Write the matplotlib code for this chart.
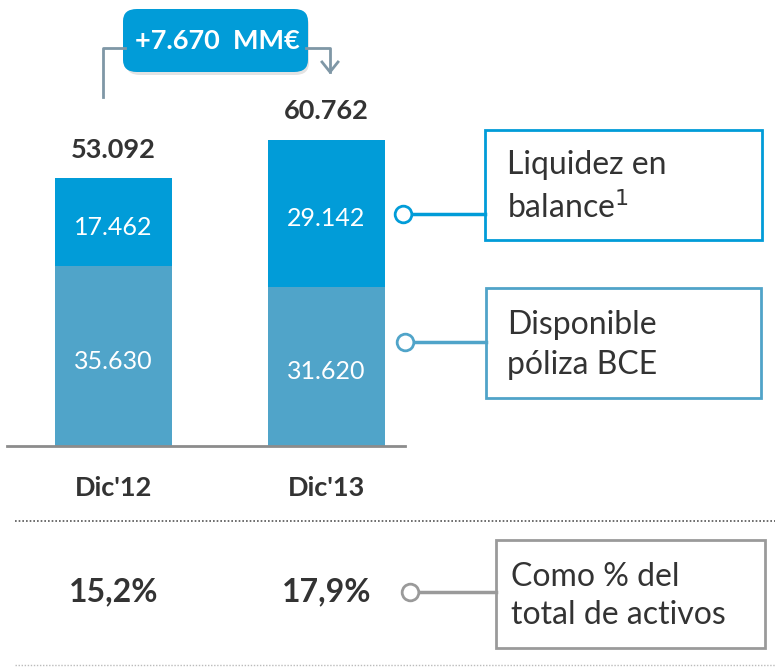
import matplotlib
matplotlib.use("Agg")
import matplotlib.pyplot as plt
from matplotlib.patches import FancyBboxPatch, Rectangle
from matplotlib.lines import Line2D

# ---- data ----
categories = ["Dic'12", "Dic'13"]
disponible_bce = [35630, 31620]
liquidez_balance = [17462, 29142]
totals = [53092, 60762]
pct_activos = ["15,2%", "17,9%"]
delta_label = "+7.670  MM€"

def fmt(v):
    return f"{v:,}".replace(",", ".")

W, H = 775, 669
fig = plt.figure(figsize=(W / 100, H / 100), dpi=100)
FONT = ["Lato", "DejaVu Sans"]
plt.rcParams['font.family'] = FONT

px_per_x = 213.0
x0_px = 113.5
base_px = 446.0
px_per_y = 574.0 / 113854.0
ax = fig.add_axes([0, 0, 1, 1])
ax.set_xlim(-x0_px / px_per_x, (W - x0_px) / px_per_x)
ax.set_ylim(-(H - base_px) / px_per_y, base_px / px_per_y)
ax.axis("off")

def P(x, y):
    return (x / W, 1 - y / H)

def dy(px):
    return px / px_per_y

C_TOP = "#019CD8"
C_BOT = "#50A4C9"
C_TXT = "#333333"

xs = list(range(len(categories)))
bw = 117.0 / px_per_x
ax.bar(xs, disponible_bce, width=bw, color=C_BOT, zorder=2)
ax.bar(xs, liquidez_balance, width=bw, bottom=disponible_bce, color=C_TOP, zorder=2)

for i in xs:
    ax.text(i, disponible_bce[i] / 2 - dy(5), fmt(disponible_bce[i]), ha="center", va="center",
            color="white", fontsize=18, zorder=3)
    ax.text(i, disponible_bce[i] + liquidez_balance[i] / 2 - dy(5), fmt(liquidez_balance[i]),
            ha="center", va="center", color="white", fontsize=18, zorder=3)
    ax.text(i, totals[i] + dy(28.5), fmt(totals[i]), ha="center", va="center",
            color=C_TXT, fontsize=19.5, fontweight="bold")
    ax.text(i, -dy(42), categories[i], ha="center", va="center", color=C_TXT,
            fontsize=19.5, fontweight="bold")
    ax.text(i, -dy(146), pct_activos[i], ha="center", va="center", color=C_TXT,
            fontsize=23, fontweight="bold")

# baseline
fig.add_artist(Line2D([7 / W, 405 / W], [1 - 446 / H] * 2, color="#8c8c8c", lw=2))
# dotted separators
fig.add_artist(Line2D([15 / W, 775 / W], [1 - 521 / H] * 2, color="#555555", lw=1.2,
                      linestyle=(0, (1, 1.2))))
fig.add_artist(Line2D([15 / W, 775 / W], [1 - 665 / H] * 2, color="#bbbbbb", lw=1,
                      linestyle=(0, (1, 1.2))))

def legend_box(x1, y1, x2, y2, ec, text, cy, cx, circ_ec, tx, fs, ls):
    fig.add_artist(Rectangle(P(x1, y2), (x2 - x1) / W, (y2 - y1) / H, transform=fig.transFigure,
                             fill=False, ec=ec, lw=2))
    fig.add_artist(Line2D([cx / W, x1 / W], [1 - cy / H] * 2, color=circ_ec, lw=2.5, zorder=4))
    fig.add_artist(Line2D([cx / W], [1 - cy / H], marker="o", ms=12, mfc="white", mec=circ_ec,
                          mew=2, zorder=5))
    fig.text(*P(tx, (y1 + y2) / 2 + 2), text, ha="left", va="center", fontsize=fs,
             color=C_TXT, linespacing=ls)

legend_box(485, 130, 762, 240, C_TOP, "Liquidez en\nbalance$^{1}$", 214, 403, C_TOP, 507, 23, 1.45)
legend_box(486, 288, 761, 398, C_BOT, "Disponible\npóliza BCE", 342, 405, C_BOT, 507, 23, 1.45)
legend_box(496, 540, 765, 648, "#9a9a9a", "Como % del\ntotal de activos", 592, 410, "#9a9a9a",
           511, 23, 1.35)

# top callout
g = "#7f97a6"
fig.add_artist(Line2D([103 / W, 103 / W, 125 / W], [1 - 97 / H, 1 - 48 / H, 1 - 48 / H], color=g, lw=2))
fig.add_artist(Line2D([306 / W, 330 / W, 330 / W], [1 - 48 / H, 1 - 48 / H, 1 - 72 / H], color=g, lw=2))
fig.add_artist(Line2D([322 / W, 330 / W, 338 / W], [1 - 62 / H, 1 - 72 / H, 1 - 62 / H], color=g, lw=2))
fig.add_artist(FancyBboxPatch(P(126, 75), 183 / W, 62 / H, transform=fig.transFigure,
                              boxstyle="round,pad=0,rounding_size=0.018", fc="#0000001c", ec="none"))
fig.add_artist(FancyBboxPatch(P(123, 72), 185 / W, 63 / H, transform=fig.transFigure,
                              boxstyle="round,pad=0,rounding_size=0.018", fc=C_TOP, ec="none"))
fig.text(*P(217, 41), delta_label, ha="center", va="center", fontsize=19.5, fontweight="bold",
         color="white")

fig.savefig("out.png", dpi=100)
